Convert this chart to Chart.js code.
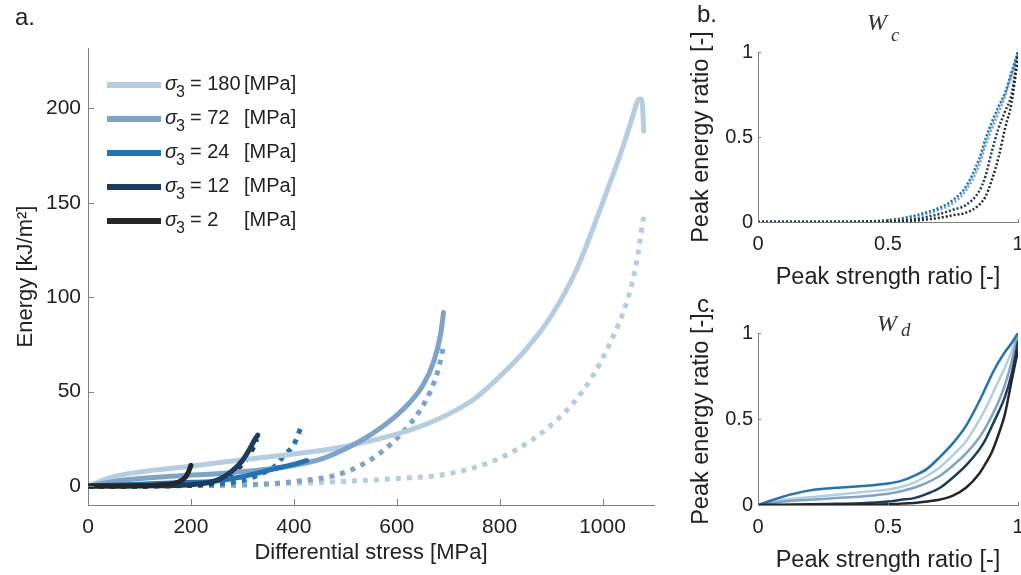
<!DOCTYPE html>
<html>
<head>
<meta charset="utf-8">
<title>Energy vs differential stress</title>
<script src="https://cdn.jsdelivr.net/npm/chart.js@4.4.1/dist/chart.umd.min.js"></script>
<style>
  body { margin: 0; background: #fff; }
  #wrap { position: relative; width: 1021px; height: 575px; overflow: hidden; }
  .panel { position: absolute; }
</style>
</head>
<body>
<div id="wrap">
  <div class="panel" style="left:0;top:0;width:680px;height:575px"><canvas id="mainChart"></canvas></div>
  <div class="panel" style="left:690px;top:0;width:331px;height:290px"><canvas id="wcChart"></canvas></div>
  <div class="panel" style="left:690px;top:290px;width:331px;height:285px"><canvas id="wdChart"></canvas></div>
</div>
<script>
// confining pressure of each test, light to dark
const sigma3 = ["180", "72", "24", "12", "2"];
const colors = ["#b5cde2", "#7ea3c8", "#2272b8", "#1a3d5e", "#262626"];

// tick labels
const xTicksMain = [0, 200, 400, 600, 800, 1000];
const yTicksMain = [0, 50, 100, 150, 200];
const ratioTicks = [0, 0.5, 1];

// ---- panel a: energy [kJ/m2] vs differential stress [MPa] ----
// solid curves
const stress180 = [0, 50, 100, 200, 300, 400, 500, 600, 650, 700, 750, 800, 850, 900, 950, 1000, 1040, 1060, 1068, 1074, 1078, 1080];
const energy180 = [0, 5, 7.5, 10.5, 14, 17, 21, 27.5, 32, 38, 46, 58, 72, 90, 115, 150, 180, 197, 204, 205, 200, 188];
const stress72 = [0, 50, 150, 270, 400, 460, 530, 570, 610, 650, 672, 685, 691];
const energy72 = [0, 2.5, 5, 7, 11, 15, 24, 31, 40, 53, 66, 80, 92];
const stress24 = [0, 100, 200, 240, 300, 360, 400, 425];
const energy24 = [0, 1, 2, 2.5, 5, 9, 11.5, 13.5];
const stress12 = [0, 150, 200, 250, 280, 300, 315, 325, 330];
const energy12 = [0, 0.2, 0.7, 3, 8, 13.5, 20, 25, 27];
const stress2 = [0, 100, 150, 175, 190, 196, 200];
const energy2 = [0, 0.2, 0.8, 2, 5, 8, 11];
// dotted curves
const stress180d = [0, 200, 400, 500, 600, 700, 780, 840, 890, 940, 980, 1015, 1050, 1065, 1080];
const energy180d = [0, 0.3, 1.5, 2.5, 4, 6.5, 12.5, 20.5, 30, 43, 58, 76, 100, 117, 143];
const stress72d = [0, 200, 340, 420, 485, 530, 570, 610, 645, 665, 680, 691];
const energy72d = [0, 0.3, 1, 3, 6, 11, 18, 28, 40, 50, 61, 74];
const stress24d = [0, 200, 300, 340, 365, 380, 400, 415];
const energy24d = [0, 0.5, 3, 7, 11, 16, 22, 32];
const stress12d = [0, 200, 260, 290, 310, 322, 328];
const energy12d = [0, 0.5, 3.5, 9, 15, 21, 25];
const stress2d = [0, 150, 180, 192, 198];
const energy2d = [0, 0.5, 2.5, 6, 9];

// ---- panels b and c: peak energy ratio vs peak strength ratio ----
const strengthRatio = [0, 0.1, 0.2, 0.3, 0.4, 0.5, 0.55, 0.6, 0.65, 0.7, 0.75, 0.8, 0.85, 0.875, 0.9, 0.925, 0.95, 0.975, 1];
const wc180 = [0, 0, 0, 0, 0.002, 0.009, 0.019, 0.034, 0.054, 0.08, 0.12, 0.2, 0.35, 0.47, 0.57, 0.66, 0.75, 0.87, 1];
const wc72 = [0, 0, 0, 0, 0.001, 0.007, 0.016, 0.03, 0.048, 0.073, 0.11, 0.185, 0.33, 0.45, 0.55, 0.64, 0.74, 0.86, 1];
const wc24 = [0, 0, 0, 0, 0.002, 0.011, 0.021, 0.037, 0.058, 0.085, 0.13, 0.21, 0.37, 0.49, 0.59, 0.68, 0.76, 0.88, 1];
const wc12 = [0, 0, 0, 0, 0.001, 0.003, 0.008, 0.016, 0.03, 0.048, 0.072, 0.1, 0.18, 0.27, 0.42, 0.55, 0.65, 0.75, 1];
const wc2 = [0, 0, 0, 0, 0, 0.001, 0.004, 0.008, 0.015, 0.025, 0.04, 0.055, 0.1, 0.15, 0.25, 0.38, 0.55, 0.7, 0.97];
const wd180 = [0, 0.03, 0.045, 0.06, 0.075, 0.09, 0.105, 0.13, 0.17, 0.22, 0.29, 0.37, 0.49, 0.56, 0.64, 0.72, 0.8, 0.89, 1];
const wd72 = [0, 0.02, 0.03, 0.04, 0.05, 0.065, 0.08, 0.1, 0.13, 0.17, 0.23, 0.3, 0.39, 0.45, 0.52, 0.6, 0.7, 0.83, 1];
const wd24 = [0, 0.05, 0.085, 0.1, 0.11, 0.125, 0.14, 0.17, 0.21, 0.28, 0.36, 0.46, 0.6, 0.68, 0.76, 0.83, 0.89, 0.94, 1];
const wd12 = [0, 0.002, 0.004, 0.007, 0.01, 0.02, 0.03, 0.04, 0.065, 0.1, 0.16, 0.23, 0.32, 0.38, 0.46, 0.54, 0.63, 0.76, 0.95];
const wd2 = [0, 0, 0.001, 0.002, 0.003, 0.005, 0.008, 0.012, 0.02, 0.032, 0.055, 0.1, 0.18, 0.24, 0.31, 0.41, 0.53, 0.72, 0.9];

const axisGrey = "#808080";
const textColor = "#222";
const sansFont = '"Liberation Sans", Arial, sans-serif';
const serifFont = '"Liberation Serif", "DejaVu Serif", serif';

Chart.defaults.font.family = sansFont;
Chart.defaults.color = textColor;

function toPoints(xs, ys) {
    return xs.map((x, i) => ({ x: x, y: ys[i] }));
}

// dark curves first so they end up drawn on top
function makeSets(pairs, width, dash) {
    const sets = [];
    for (let i = pairs.length - 1; i >= 0; i--) {
        sets.push({
            data: toPoints(pairs[i][0], pairs[i][1]),
            borderColor: colors[i],
            borderWidth: width,
            borderDash: dash,
            borderCapStyle: dash.length ? "butt" : "round",
            pointRadius: 0,
            fill: false
        });
    }
    return sets;
}

// MATLAB style ticks pointing into the plot
function innerTicks(len) {
    return {
        id: "innerTicks",
        afterDatasetsDraw(chart) {
            const { ctx, chartArea: a, scales: { x, y } } = chart;
            ctx.save();
            ctx.strokeStyle = axisGrey;
            ctx.lineWidth = 1;
            ctx.beginPath();
            x.ticks.forEach(t => {
                const px = Math.round(x.getPixelForValue(t.value)) + 0.5;
                ctx.moveTo(px, a.bottom);
                ctx.lineTo(px, a.bottom - len);
            });
            y.ticks.forEach(t => {
                const py = Math.round(y.getPixelForValue(t.value)) + 0.5;
                ctx.moveTo(a.left, py);
                ctx.lineTo(a.left + len, py);
            });
            ctx.stroke();
            ctx.restore();
        }
    };
}

const plainLabel = v => String(v);

function axes(opts) {
    return {
        x: {
            type: "linear", min: opts.xMin, max: opts.xMax,
            afterFit: s => { s.height = opts.xHeight; s.paddingLeft = 0; s.paddingRight = 0; },
            afterBuildTicks: s => { s.ticks = opts.xTicks.map(v => ({ value: v })); },
            grid: { display: false, drawTicks: false },
            border: { color: axisGrey, width: 1 },
            ticks: { font: { size: opts.tickSize }, padding: opts.xPad, maxRotation: 0, autoSkip: false, color: textColor, callback: plainLabel },
            title: { display: true, text: opts.xTitle, color: textColor, font: { size: opts.titleSize, lineHeight: 1 }, padding: { top: 0, bottom: opts.xTitlePad } }
        },
        y: {
            type: "linear", min: opts.yMin, max: opts.yMax,
            afterFit: s => { s.width = opts.yWidth; s.paddingTop = 0; s.paddingBottom = 0; },
            afterBuildTicks: s => { s.ticks = opts.yTicks.map(v => ({ value: v })); },
            grid: { display: false, drawTicks: false },
            border: { color: axisGrey, width: 1 },
            ticks: { font: { size: opts.tickSize }, padding: opts.yPad, autoSkip: false, color: textColor, callback: plainLabel },
            title: { display: true, text: opts.yTitle, color: textColor, font: { size: opts.titleSize, lineHeight: 1 }, padding: { top: opts.yTitlePad, bottom: 0 } }
        }
    };
}

function baseOptions(padding, scales) {
    return {
        responsive: true,
        maintainAspectRatio: false,
        animation: false,
        layout: { padding: padding },
        elements: { line: { cubicInterpolationMode: "monotone" } },
        plugins: { legend: { display: false }, tooltip: { enabled: false } },
        scales: scales
    };
}

// panel letter + legend for panel a
const mainDecor = {
    id: "mainDecor",
    afterDraw(chart) {
        const ctx = chart.ctx;
        ctx.save();
        ctx.fillStyle = textColor;
        ctx.font = "24px " + sansFont;
        ctx.fillText("a.", 15, 25);

        sigma3.forEach((s, i) => {
            const y = 85 + i * 34;
            ctx.strokeStyle = colors[i];
            ctx.lineWidth = 6;
            ctx.lineCap = "butt";
            ctx.beginPath();
            ctx.moveTo(107, y);
            ctx.lineTo(161, y);
            ctx.stroke();

            ctx.fillStyle = textColor;
            ctx.font = "italic 20px " + sansFont;
            ctx.fillText("σ", 165, y + 5);
            ctx.font = "16px " + sansFont;
            ctx.fillText("3", 176, y + 12);
            ctx.font = "20px " + sansFont;
            ctx.fillText("= " + s, 190, y + 5);
            ctx.fillText("[MPa]", 244, y + 5);
        });
        ctx.restore();
    }
};

function panelDecor(letter, letterY, wX, sub, wY, subY) {
    return {
        id: "panelDecor",
        afterDraw(chart) {
            const ctx = chart.ctx;
            ctx.save();
            ctx.fillStyle = textColor;
            ctx.font = "24px " + sansFont;
            ctx.fillText(letter, 7, letterY);
            ctx.fillStyle = "#333";
            ctx.font = "italic 24px " + serifFont;
            ctx.fillText("W", wX, wY);
            ctx.font = "italic 19px " + serifFont;
            ctx.fillText(sub, wX + 24, subY);
            ctx.restore();
        }
    };
}

// ---- panel a ----
const mainPairs = [[stress180, energy180], [stress72, energy72], [stress24, energy24], [stress12, energy12], [stress2, energy2]];
const mainPairsDotted = [[stress180d, energy180d], [stress72d, energy72d], [stress24d, energy24d], [stress12d, energy12d], [stress2d, energy2d]];

new Chart(document.getElementById("mainChart"), {
    type: "line",
    data: { datasets: makeSets(mainPairs, 5, []).concat(makeSets(mainPairsDotted, 5, [5, 6])) },
    options: baseOptions({ top: 48, right: 26, left: 0, bottom: 0 }, axes({
        xMin: 0, xMax: 1100, xTicks: xTicksMain, xHeight: 70, xPad: 10, xTitle: "Differential stress [MPa]", xTitlePad: 11,
        yMin: -10, yMax: 232, yTicks: yTicksMain, yWidth: 88, yPad: 7, yTitle: "Energy [kJ/m²]", yTitlePad: 15,
        tickSize: 21, titleSize: 22
    })),
    plugins: [innerTicks(6), mainDecor]
});

// ---- panel b: W_c ----
const wcPairs = [wc180, wc72, wc24, wc12, wc2].map(v => [strengthRatio, v]);
new Chart(document.getElementById("wcChart"), {
    type: "line",
    data: { datasets: makeSets(wcPairs, 2.5, [2, 2]) },
    options: baseOptions({ top: 52, right: 3, left: 0, bottom: 0 }, axes({
        xMin: 0, xMax: 1, xTicks: ratioTicks, xHeight: 68, xPad: 10, xTitle: "Peak strength ratio [-]", xTitlePad: 1,
        yMin: 0, yMax: 1, yTicks: ratioTicks, yWidth: 68, yPad: 5, yTitle: "Peak energy ratio [-]", yTitlePad: 0,
        tickSize: 20, titleSize: 23.5
    })),
    plugins: [innerTicks(3), panelDecor("b.", 22, 177, "c", 30, 41)]
});

// ---- panel c: W_d ----
const wdPairs = [wd180, wd72, wd24, wd12, wd2].map(v => [strengthRatio, v]);
new Chart(document.getElementById("wdChart"), {
    type: "line",
    data: { datasets: makeSets(wdPairs, 2.5, []) },
    options: baseOptions({ top: 43, right: 3, left: 0, bottom: 0 }, axes({
        xMin: 0, xMax: 1, xTicks: ratioTicks, xHeight: 70, xPad: 10, xTitle: "Peak strength ratio [-]", xTitlePad: 3,
        yMin: 0, yMax: 1, yTicks: ratioTicks, yWidth: 68, yPad: 5, yTitle: "Peak energy ratio [-]", yTitlePad: 0,
        tickSize: 20, titleSize: 23.5
    })),
    plugins: [innerTicks(3), panelDecor("c.", 22, 187, "d", 41, 46)]
});
</script>
</body>
</html>
